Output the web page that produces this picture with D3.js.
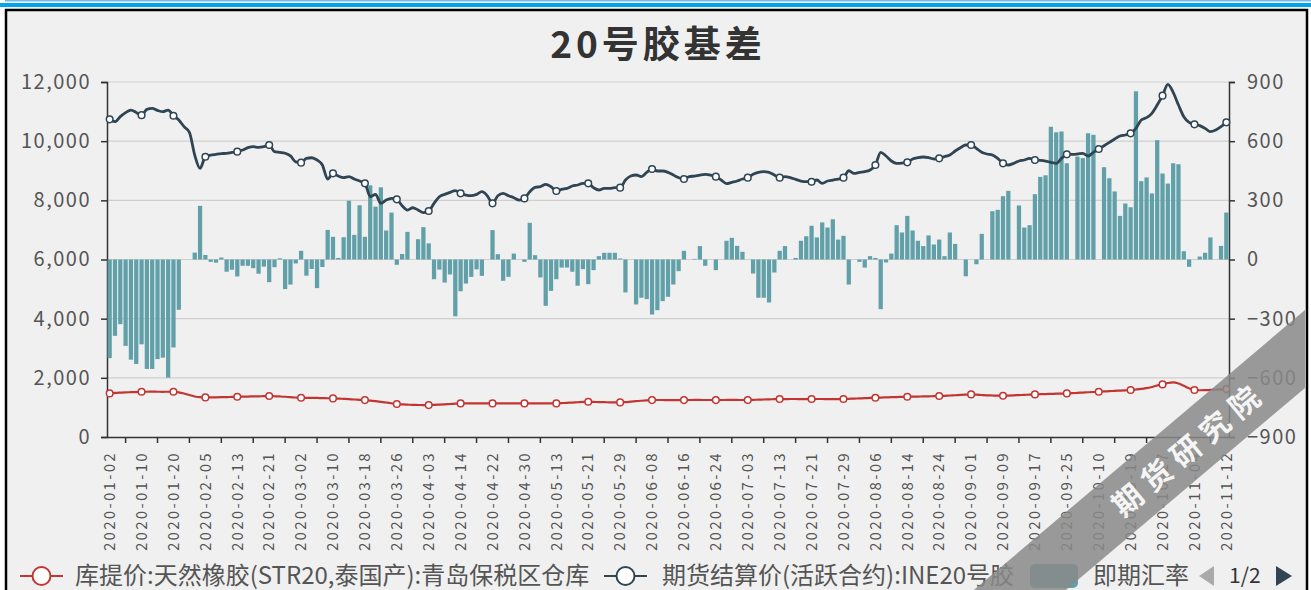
<!DOCTYPE html>
<html>
<head>
<meta charset="utf-8">
<script src="https://cdn.jsdelivr.net/npm/d3@7"></script>
<style>
  body { margin: 0; background: #fff; }
  text { font-family: "Noto Sans CJK SC", "Noto Sans", sans-serif; }
</style>
</head>
<body>
<div id="chart"></div>
<script>
// trading days on the category axis
var dates = [
  "2020-01-02","2020-01-03","2020-01-06","2020-01-07","2020-01-08","2020-01-09","2020-01-10","2020-01-13","2020-01-14","2020-01-15",
  "2020-01-16","2020-01-17","2020-01-20","2020-01-21","2020-01-22","2020-01-23","2020-02-03","2020-02-04","2020-02-05","2020-02-06",
  "2020-02-07","2020-02-10","2020-02-11","2020-02-12","2020-02-13","2020-02-14","2020-02-17","2020-02-18","2020-02-19","2020-02-20",
  "2020-02-21","2020-02-24","2020-02-25","2020-02-26","2020-02-27","2020-02-28","2020-03-02","2020-03-03","2020-03-04","2020-03-05",
  "2020-03-06","2020-03-09","2020-03-10","2020-03-11","2020-03-12","2020-03-13","2020-03-16","2020-03-17","2020-03-18","2020-03-19",
  "2020-03-20","2020-03-23","2020-03-24","2020-03-25","2020-03-26","2020-03-27","2020-03-30","2020-03-31","2020-04-01","2020-04-02",
  "2020-04-03","2020-04-07","2020-04-08","2020-04-09","2020-04-10","2020-04-13","2020-04-14","2020-04-15","2020-04-16","2020-04-17",
  "2020-04-20","2020-04-21","2020-04-22","2020-04-23","2020-04-24","2020-04-27","2020-04-28","2020-04-29","2020-04-30","2020-05-06",
  "2020-05-07","2020-05-08","2020-05-11","2020-05-12","2020-05-13","2020-05-14","2020-05-15","2020-05-18","2020-05-19","2020-05-20",
  "2020-05-21","2020-05-22","2020-05-25","2020-05-26","2020-05-27","2020-05-28","2020-05-29","2020-06-01","2020-06-02","2020-06-03",
  "2020-06-04","2020-06-05","2020-06-08","2020-06-09","2020-06-10","2020-06-11","2020-06-12","2020-06-15","2020-06-16","2020-06-17",
  "2020-06-18","2020-06-19","2020-06-22","2020-06-23","2020-06-24","2020-06-28","2020-06-29","2020-06-30","2020-07-01","2020-07-02",
  "2020-07-03","2020-07-06","2020-07-07","2020-07-08","2020-07-09","2020-07-10","2020-07-13","2020-07-14","2020-07-15","2020-07-16",
  "2020-07-17","2020-07-20","2020-07-21","2020-07-22","2020-07-23","2020-07-24","2020-07-27","2020-07-28","2020-07-29","2020-07-30",
  "2020-07-31","2020-08-03","2020-08-04","2020-08-05","2020-08-06","2020-08-07","2020-08-10","2020-08-11","2020-08-12","2020-08-13",
  "2020-08-14","2020-08-17","2020-08-18","2020-08-19","2020-08-20","2020-08-21","2020-08-24","2020-08-25","2020-08-26","2020-08-27",
  "2020-08-28","2020-08-31","2020-09-01","2020-09-02","2020-09-03","2020-09-04","2020-09-07","2020-09-08","2020-09-09","2020-09-10",
  "2020-09-11","2020-09-14","2020-09-15","2020-09-16","2020-09-17","2020-09-18","2020-09-21","2020-09-22","2020-09-23","2020-09-24",
  "2020-09-25","2020-09-27","2020-09-28","2020-09-29","2020-09-30","2020-10-09","2020-10-10","2020-10-12","2020-10-13","2020-10-14",
  "2020-10-15","2020-10-16","2020-10-19","2020-10-20","2020-10-21","2020-10-22","2020-10-23","2020-10-26","2020-10-27","2020-10-28",
  "2020-10-29","2020-10-30","2020-11-02","2020-11-03","2020-11-04","2020-11-05","2020-11-06","2020-11-09","2020-11-10","2020-11-11",
  "2020-11-12"
];

// 库提价 STR20 (left axis)
var strPrice = [
  1474,1490,1500,1508,1515,1520,1530,1530,1532,1530,1528,1530,1530,1510,1470,1420,1370,1345,1339,1340,
  1342,1345,1350,1355,1361,1365,1368,1372,1375,1380,1384,1378,1370,1360,1345,1335,1327,1325,1322,1320,
  1315,1310,1305,1298,1290,1280,1268,1258,1248,1232,1212,1190,1165,1140,1113,1100,1092,1086,1082,1080,
  1079,1085,1095,1105,1115,1126,1136,1140,1140,1138,1138,1136,1136,1138,1140,1140,1138,1136,1136,1136,
  1138,1140,1140,1138,1136,1145,1155,1165,1175,1185,1192,1186,1180,1176,1172,1170,1170,1180,1195,1210,
  1225,1238,1248,1250,1250,1248,1248,1246,1248,1250,1252,1252,1250,1250,1248,1250,1252,1254,1252,1250,
  1250,1255,1262,1268,1274,1278,1282,1282,1284,1284,1282,1282,1282,1284,1284,1282,1282,1282,1282,1290,
  1298,1305,1312,1320,1327,1333,1340,1345,1350,1356,1361,1365,1368,1372,1376,1380,1384,1392,1402,1412,
  1422,1432,1440,1432,1420,1410,1402,1396,1395,1400,1408,1416,1425,1434,1440,1446,1452,1458,1463,1468,
  1474,1482,1492,1502,1512,1522,1530,1540,1550,1560,1570,1578,1587,1605,1625,1650,1690,1740,1778,1825,
  1846,1810,1730,1650,1590,1580,1582,1590,1598,1608,1620
];

// 期货结算价 INE20号胶 (left axis)
var futuresPrice = [
  10738,10660,10830,10963,11050,10970,10880,11075,11110,11040,10997,11050,10860,10715,10490,10300,9530,9080,9475,9530,
  9555,9577,9590,9620,9645,9700,9780,9815,9790,9815,9870,9645,9620,9590,9500,9300,9273,9420,9440,9363,
  9194,8720,8912,8822,8765,8800,8720,8653,8574,8124,8200,7898,8010,8066,8033,7819,7672,7750,7672,7582,
  7638,7898,8123,8202,8270,8326,8236,8180,8157,8200,8292,8157,7898,8157,8236,8157,8090,8010,8066,8292,
  8439,8461,8540,8461,8315,8371,8405,8484,8518,8574,8574,8428,8349,8405,8405,8428,8428,8687,8822,8856,
  8800,8946,9058,8991,8991,8946,8856,8766,8720,8800,8822,8856,8878,8856,8800,8687,8563,8608,8653,8720,
  8766,8878,8946,8968,8946,8856,8766,8800,8766,8709,8653,8630,8630,8687,8574,8653,8687,8720,8766,9000,
  8912,8946,8968,9025,9194,9622,9498,9329,9250,9261,9284,9397,9442,9464,9442,9397,9419,9475,9532,9667,
  9780,9870,9870,9757,9622,9566,9532,9419,9250,9194,9250,9329,9363,9419,9363,9352,9329,9284,9250,9419,
  9554,9554,9566,9588,9498,9622,9735,9847,9960,10073,10174,10208,10264,10433,10715,10794,10940,11222,11538,11921,
  11650,11222,10828,10636,10569,10524,10433,10321,10377,10490,10636
];

// basis bars (right axis), null = no value that day
var basis = [
  -500,-387,-328,-438,-508,-530,-430,-555,-555,-505,-498,-599,-446,-255,null,null,35,272,23,-12,
  -16,10,-62,-52,-86,-32,-32,-44,-72,-36,-115,-39,6,-150,-127,-20,44,-82,-48,-145,
  -38,150,115,8,113,298,125,275,115,376,268,366,147,238,-27,28,140,null,103,164,
  82,-100,-51,-117,-76,-288,-161,-122,-88,-50,-83,0,149,27,-108,-88,30,0,-12,186,
  22,-91,-235,-159,-100,-41,-41,-62,-133,-49,-125,-54,17,34,34,34,5,-167,0,-228,
  -194,-201,-279,-257,-211,-189,-127,-59,44,0,3,68,-32,0,-54,null,95,110,69,39,
  0,-71,-194,-194,-218,-66,44,68,0,8,95,118,171,112,188,162,204,101,120,-127,
  0,-12,-41,17,8,-252,-15,30,174,137,221,147,95,68,122,76,101,17,137,79,
  0,-85,0,-24,130,0,245,252,321,348,0,274,162,174,331,419,427,673,645,649,
  488,null,522,514,640,632,null,468,412,345,221,284,265,853,397,416,335,605,436,385,
  488,483,42,-37,0,15,34,112,null,69,238
];

var leftTicks = [0, 2000, 4000, 6000, 8000, 10000, 12000];
var rightTicks = [-900, -600, -300, 0, 300, 600, 900];
var legendNames = ["库提价:天然橡胶(STR20,泰国产):青岛保税区仓库", "期货结算价(活跃合约):INE20号胶", "即期汇率"];

var colors = { str: "#c23531", fut: "#2f4554", bar: "#61a0a8", label: "#555", axis: "#333" };

// Set up the canvas
var svgWidth = 1311;
var svgHeight = 590;
var margin = { top: 82, right: 82, bottom: 153, left: 107 };
var width = svgWidth - margin.left - margin.right;
var height = svgHeight - margin.top - margin.bottom;

var svg = d3.select("#chart")
  .append("svg")
  .attr("width", svgWidth)
  .attr("height", svgHeight);

// top blue strips and the framed panel
svg.append("rect").attr("x", 5).attr("y", 0).attr("width", svgWidth).attr("height", 1.5).attr("fill", "#74b9e4");
svg.append("rect").attr("x", 0).attr("y", 3).attr("width", svgWidth).attr("height", 4).attr("fill", "#00a6ec");
svg.append("rect")
  .attr("x", 6).attr("y", 10)
  .attr("width", 1301).attr("height", 600)
  .attr("fill", "#f0f0f0")
  .attr("stroke", "#000")
  .attr("stroke-width", 2.5);

// title
svg.append("text")
  .attr("x", 658)
  .attr("y", 58)
  .attr("text-anchor", "middle")
  .attr("font-size", "37px")
  .attr("font-weight", "bold")
  .attr("letter-spacing", "4px")
  .attr("fill", "#333")
  .text("20号胶基差");

var chartGroup = svg.append("g")
  .attr("transform", `translate(${margin.left}, ${margin.top})`);

// scales
var xBand = d3.scaleBand()
  .domain(dates)
  .range([0, width])
  .paddingInner(0.2)
  .paddingOuter(0.1);
var bw = xBand.bandwidth();
var cx = function (i) { return xBand(dates[i]) + bw / 2; };

var yLeft = d3.scaleLinear().domain([0, 12000]).range([height, 0]);
var yRight = d3.scaleLinear().domain([-900, 900]).range([height, 0]);

// gridlines
chartGroup.append("g")
  .selectAll("line")
  .data(leftTicks.slice(1))
  .enter()
  .append("line")
  .attr("x1", 0).attr("x2", width)
  .attr("y1", d => yLeft(d)).attr("y2", d => yLeft(d))
  .attr("stroke", "#cfcfcf")
  .attr("stroke-width", 1.2);

// left axis
var leftAxis = d3.axisLeft(yLeft).tickValues(leftTicks).tickSize(6).tickPadding(10).tickFormat(d3.format(","));
var yAxisL = chartGroup.append("g").call(leftAxis);

// right axis
var rightAxis = d3.axisRight(yRight).tickValues(rightTicks).tickSize(6).tickPadding(12);
var yAxisR = chartGroup.append("g")
  .attr("transform", `translate(${width}, 0)`)
  .call(rightAxis);

[yAxisL, yAxisR].forEach(function (ax) {
  ax.select(".domain").attr("stroke", colors.axis).attr("stroke-width", 1.5);
  ax.selectAll(".tick line").attr("stroke", colors.axis).attr("stroke-width", 1.5);
  ax.selectAll(".tick text")
    .attr("fill", colors.label)
    .attr("font-size", "20px")
    .attr("letter-spacing", "1.5px")
    .style("font-family", "'Noto Sans CJK SC', sans-serif");
});

// bottom axis: labels every 6th day, ticks offset between them
var labelDates = dates.filter((d, i) => i % 6 === 0);
var bottomAxis = d3.axisBottom(xBand).tickValues(labelDates).tickSize(0).tickPadding(0);
var xAxis = chartGroup.append("g")
  .attr("transform", `translate(0, ${height})`)
  .call(bottomAxis);

xAxis.select(".domain").attr("stroke", colors.axis).attr("stroke-width", 1.5);
xAxis.selectAll(".tick text")
  .attr("transform", "rotate(-90)")
  .attr("text-anchor", "end")
  .attr("x", -14)
  .attr("y", 0)
  .attr("dy", "0.35em")
  .attr("fill", colors.label)
  .attr("font-size", "15px")
  .attr("letter-spacing", "2.3px")
  .style("font-family", "'Noto Sans CJK SC', sans-serif");

chartGroup.append("g")
  .selectAll("line")
  .data(d3.range(3, dates.length, 6))
  .enter()
  .append("line")
  .attr("x1", d => cx(d)).attr("x2", d => cx(d))
  .attr("y1", height).attr("y2", height + 6)
  .attr("stroke", colors.axis)
  .attr("stroke-width", 1.5);

// basis bars
var barData = basis.map((v, i) => ({ i: i, v: v })).filter(d => d.v !== null && d.v !== 0);
chartGroup.append("g")
  .selectAll("rect")
  .data(barData)
  .enter()
  .append("rect")
  .attr("x", d => xBand(dates[d.i]))
  .attr("width", bw)
  .attr("y", d => yRight(Math.max(0, d.v)))
  .attr("height", d => Math.abs(yRight(d.v) - yRight(0)))
  .attr("fill", colors.bar);

// lines with sparse hollow symbols
function drawLine(values, color, lw) {
  var line = d3.line()
    .x((d, i) => cx(i))
    .y(d => yLeft(d))
    .curve(d3.curveMonotoneX);

  chartGroup.append("path")
    .datum(values)
    .attr("d", line)
    .attr("fill", "none")
    .attr("stroke", color)
    .attr("stroke-width", lw)
    .attr("stroke-linejoin", "round");

  chartGroup.append("g")
    .selectAll("circle")
    .data(values.map((v, i) => ({ i: i, v: v })).filter(d => d.i % 6 === 0))
    .enter()
    .append("circle")
    .attr("cx", d => cx(d.i))
    .attr("cy", d => yLeft(d.v))
    .attr("r", 3.3)
    .attr("fill", "#fff")
    .attr("stroke", color)
    .attr("stroke-width", 1.5);
}
drawLine(strPrice, colors.str, 2.2);
drawLine(futuresPrice, colors.fut, 2.8);

// legend
var legendY = 576;
var legend = svg.append("g");

function lineIcon(x, color) {
  legend.append("line")
    .attr("x1", x).attr("x2", x + 43)
    .attr("y1", legendY).attr("y2", legendY)
    .attr("stroke", color).attr("stroke-width", 2);
  legend.append("circle")
    .attr("cx", x + 21.5).attr("cy", legendY).attr("r", 9)
    .attr("fill", "#fff").attr("stroke", color).attr("stroke-width", 2);
}
lineIcon(20, colors.str);
lineIcon(604, colors.fut);
legend.append("rect")
  .attr("x", 1030).attr("y", 564)
  .attr("width", 48).attr("height", 24)
  .attr("rx", 5)
  .attr("fill", colors.bar);

var legendX = [75, 662, 1093];
legend.selectAll(".legendText")
  .data(legendNames)
  .enter()
  .append("text")
  .attr("class", "legendText")
  .attr("x", (d, i) => legendX[i])
  .attr("y", legendY)
  .attr("dy", "0.35em")
  .attr("font-size", "24px")
  .attr("fill", colors.label)
  .text(d => d);

// legend pager
legend.append("path").attr("d", "M1199,576L1214,566L1214,586Z").attr("fill", "#aaa");
legend.append("text")
  .attr("x", 1229).attr("y", legendY).attr("dy", "0.35em")
  .attr("font-size", "21px").attr("fill", "#333")
  .text("1/2");
legend.append("path").attr("d", "M1276,566L1292,576L1276,586Z").attr("fill", colors.fut);

// watermark ribbon
var wm = svg.append("g");
wm.append("path")
  .attr("d", "M1305,310L1305,388L1054,600L962,600Z")
  .attr("fill", "#8a8a8a")
  .attr("opacity", 0.85);
wm.append("text")
  .attr("transform", "translate(1262,388) rotate(-40)")
  .attr("text-anchor", "end")
  .attr("dy", "0.35em")
  .attr("font-size", "30px")
  .attr("font-weight", "bold")
  .attr("letter-spacing", "8px")
  .attr("fill", "#fff")
  .attr("opacity", 0.9)
  .text("期货研究院");
</script>
</body>
</html>
